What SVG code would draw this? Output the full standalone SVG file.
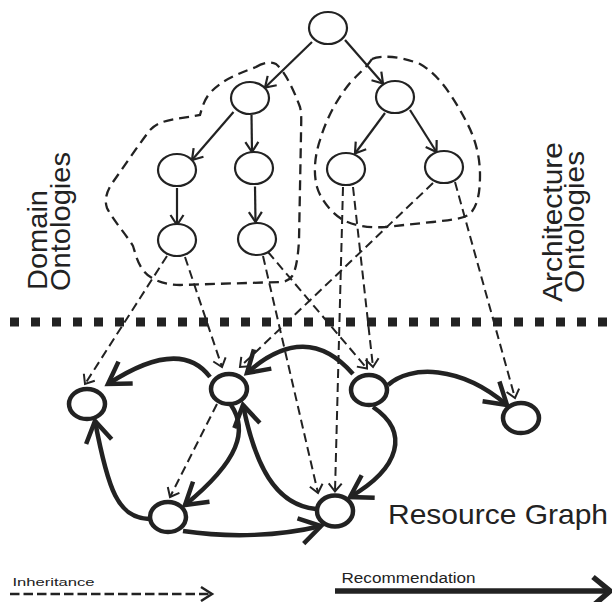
<svg xmlns="http://www.w3.org/2000/svg" width="612" height="602" viewBox="0 0 612 602">
<style>
.onode{fill:#fff;stroke:#222;stroke-width:2.2}
.rnode{fill:#fff;stroke:#222;stroke-width:4.5}
.tree{fill:none;stroke:#222;stroke-width:2.2}
.inh{fill:none;stroke:#222;stroke-width:2;stroke-dasharray:9 5}
.rec{fill:none;stroke:#222;stroke-width:4.5}
.blob{fill:none;stroke:#222;stroke-width:2.3;stroke-dasharray:10 6}
.lbl{font-family:"Liberation Sans",Arial,sans-serif;fill:#222}
</style>
<defs>
<marker id="ah-thin" markerUnits="userSpaceOnUse" viewBox="-15 -15 30 30" markerWidth="30" markerHeight="30" refX="0" refY="0" orient="auto" overflow="visible">
<path d="M-10,-6.5 L0,0 L-10,6.5" fill="none" stroke="#222" stroke-width="2.2"/>
</marker>
<marker id="ah-inh" markerUnits="userSpaceOnUse" viewBox="-15 -15 30 30" markerWidth="30" markerHeight="30" refX="0" refY="0" orient="auto" overflow="visible">
<path d="M-8,-6.5 L0,0 L-8,6.5" fill="none" stroke="#222" stroke-width="2"/>
</marker>
<marker id="ah-rec" markerUnits="userSpaceOnUse" viewBox="-30 -30 60 60" markerWidth="60" markerHeight="60" refX="0" refY="0" orient="auto" overflow="visible">
<path d="M-21,-13 L0,0 L-21,13" fill="none" stroke="#222" stroke-width="4.5"/>
</marker>
</defs>

<rect width="612" height="602" fill="#fff"/>

<g id="ontology-groups">
<path class="blob" d="M256,67 C262,63 270,61 276,64 C285,72 293,88 300,107 C302,115 301,125 301,135 L299,240 C298,258 296,268 293,275 C290,280 285,282 280,282 L180,285 C165,285 150,280 143,270 C137,262 135,252 133,246 C125,233 113,220 107,208 C104,200 107,190 113,182 C125,165 137,147 150,130 C160,120 170,120 200,115 C202,108 204,100 210,93 C222,80 235,75 256,67 Z"/>
<path class="blob" d="M372,59 C380,55 400,56 420,64 C440,75 455,100 467,123 C476,140 480,158 480,175 C480,192 478,205 470,214 C462,219 450,220 433,222 L385,227 C370,228 355,226 343,220 C330,212 320,198 317,187 C313,172 315,155 320,140 C326,120 336,100 350,83 C358,74 366,68 372,59 Z"/>
</g>

<g id="separator">
<line x1="10" y1="322" x2="612" y2="322" stroke="#222" stroke-width="9" stroke-dasharray="9 12"/>
</g>

<g id="connectors">
<g id="tree-edges">
<line class="tree" x1="312" y1="42" x2="265" y2="87.5" marker-end="url(#ah-thin)"/>
<line class="tree" x1="345" y1="40" x2="383" y2="83.5" marker-end="url(#ah-thin)"/>
<line class="tree" x1="233.5" y1="112" x2="192" y2="160" marker-end="url(#ah-thin)"/>
<line class="tree" x1="251.5" y1="115" x2="252" y2="152" marker-end="url(#ah-thin)"/>
<line class="tree" x1="385" y1="113" x2="355" y2="153.5" marker-end="url(#ah-thin)"/>
<line class="tree" x1="410" y1="110" x2="436.5" y2="152" marker-end="url(#ah-thin)"/>
<line class="tree" x1="177" y1="188" x2="177" y2="225" marker-end="url(#ah-thin)"/>
<line class="tree" x1="255" y1="186.5" x2="255.5" y2="222" marker-end="url(#ah-thin)"/>
</g>
<g id="inheritance-edges">
<line class="inh" x1="167" y1="256" x2="85" y2="384" marker-end="url(#ah-inh)"/>
<line class="inh" x1="185" y1="257" x2="222" y2="367" marker-end="url(#ah-inh)"/>
<line class="inh" x1="263" y1="256" x2="318" y2="493" marker-end="url(#ah-inh)"/>
<line class="inh" x1="268" y1="252" x2="367" y2="368.5" marker-end="url(#ah-inh)"/>
<line class="inh" x1="343" y1="187" x2="335" y2="491.5" marker-end="url(#ah-inh)"/>
<line class="inh" x1="353" y1="187" x2="373" y2="367" marker-end="url(#ah-inh)"/>
<line class="inh" x1="433" y1="183" x2="240" y2="367" marker-end="url(#ah-inh)"/>
<line class="inh" x1="455" y1="182" x2="515" y2="398" marker-end="url(#ah-inh)"/>
<line class="inh" x1="217" y1="404" x2="170" y2="497" marker-end="url(#ah-inh)"/>
</g>
<g id="recommendation-edges">
<path class="rec" d="M210,377 Q180,337 108,384" marker-end="url(#ah-rec)"/>
<path class="rec" d="M353,374 Q306,320 247,373" marker-end="url(#ah-rec)"/>
<path class="rec" d="M388,385 C410,365 460,365 507,405" marker-end="url(#ah-rec)"/>
<path class="rec" d="M373,407 C410,432 400,468 350,497" marker-end="url(#ah-rec)"/>
<path class="rec" d="M231,405 C248,430 240,460 185,505" marker-end="url(#ah-rec)"/>
<path class="rec" d="M316,509 C275,505 255,465 243,405" marker-end="url(#ah-rec)"/>
<path class="rec" d="M149,519 C118,518 108,490 95,421" marker-end="url(#ah-rec)"/>
<path class="rec" d="M183,531 C230,538 280,536 321,526" marker-end="url(#ah-rec)"/>
</g>
</g>

<g id="n-root"><ellipse class="onode" cx="328" cy="28" rx="19" ry="16"/></g>
<g id="n-d1"><ellipse class="onode" cx="250" cy="98" rx="19" ry="16"/></g>
<g id="n-a1"><ellipse class="onode" cx="395" cy="97" rx="19" ry="16"/></g>
<g id="n-d2"><ellipse class="onode" cx="177" cy="170" rx="19" ry="16"/></g>
<g id="n-d3"><ellipse class="onode" cx="254" cy="168" rx="19" ry="16"/></g>
<g id="n-a2"><ellipse class="onode" cx="346" cy="169" rx="19" ry="16"/></g>
<g id="n-a3"><ellipse class="onode" cx="444" cy="167" rx="19" ry="16"/></g>
<g id="n-d4"><ellipse class="onode" cx="177" cy="240" rx="19" ry="16"/></g>
<g id="n-d5"><ellipse class="onode" cx="257" cy="239" rx="19" ry="16"/></g>

<g id="r-1"><ellipse class="rnode" cx="87" cy="404" rx="18" ry="15"/></g>
<g id="r-2"><ellipse class="rnode" cx="229" cy="389" rx="18" ry="15"/></g>
<g id="r-3"><ellipse class="rnode" cx="369" cy="390" rx="18" ry="15"/></g>
<g id="r-4"><ellipse class="rnode" cx="521" cy="418" rx="18" ry="15"/></g>
<g id="r-5"><ellipse class="rnode" cx="168" cy="517" rx="18" ry="15"/></g>
<g id="r-6"><ellipse class="rnode" cx="335" cy="511" rx="18" ry="15.5"/></g>

<g id="labels">
<text class="lbl" font-size="28" transform="translate(46.5,290) rotate(-90)" textLength="100" lengthAdjust="spacingAndGlyphs">Domain</text>
<text class="lbl" font-size="28" transform="translate(70,291) rotate(-90)" textLength="139" lengthAdjust="spacingAndGlyphs">Ontologies</text>
<text class="lbl" font-size="28" text-anchor="middle" transform="translate(561.5,222) rotate(-90)" textLength="160" lengthAdjust="spacingAndGlyphs">Architecture</text>
<text class="lbl" font-size="28" text-anchor="middle" transform="translate(584,222) rotate(-90)" textLength="142" lengthAdjust="spacingAndGlyphs">Ontologies</text>
<text class="lbl" font-size="28" x="388" y="523.5" textLength="220" lengthAdjust="spacingAndGlyphs">Resource Graph</text>
</g>

<g id="legend">
<text class="lbl" font-size="11.5" x="12.5" y="585.5" textLength="82" lengthAdjust="spacingAndGlyphs">Inheritance</text>
<line x1="10" y1="594" x2="211" y2="594" stroke="#222" stroke-width="2.5" stroke-dasharray="9.5 4"/>
<path d="M201,587 L212,594 L201,601" fill="none" stroke="#222" stroke-width="2.5"/>
<text class="lbl" font-size="14" x="341.5" y="583" textLength="134" lengthAdjust="spacingAndGlyphs">Recommendation</text>
<line x1="335" y1="591" x2="606" y2="591" stroke="#222" stroke-width="5.5"/>
<path d="M593,577 L610,591 L595,604" fill="none" stroke="#222" stroke-width="5.5"/>
</g>
</svg>
